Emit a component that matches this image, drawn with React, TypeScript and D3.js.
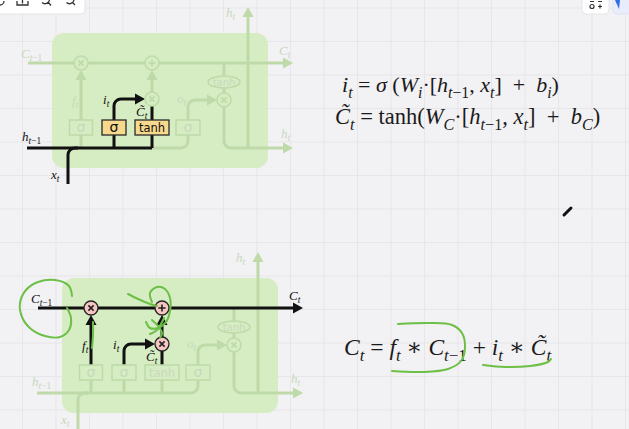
import React from "react";
import * as d3 from "d3";

type Seg = [string, string];

const W = 629;
const H = 429;

const BG = "#f2f1f3";
const GRID = "#e7e6ea";
const CELL = "#d6ecc2";
const FADE = "#bfdaa9";
const FADE_TXT = "#c7d9bd";
const INK = "#111111";
const PEN = "#6cbf47";

// formulas on the right
const formula1: Seg[] = [
  ["i", "v"], ["t", "s"], [" = ", "r"], ["σ", "v"], [" (", "r"], ["W", "v"], ["i", "s"],
  ["·[", "r"], ["h", "v"], ["t", "s"], ["−1", "sr"], [", ", "r"], ["x", "v"], ["t", "s"],
  ["]  +  ", "r"], ["b", "v"], ["i", "s"], [")", "r"],
];
const formula2: Seg[] = [
  ["C\u0303", "v"], ["t", "s"], [" = tanh(", "r"], ["W", "v"], ["C", "s"], ["·[", "r"],
  ["h", "v"], ["t", "s"], ["−1", "sr"], [", ", "r"], ["x", "v"], ["t", "s"],
  ["]  +  ", "r"], ["b", "v"], ["C", "s"], [")", "r"],
];
const formula3: Seg[] = [
  ["C", "v"], ["t", "s"], [" = ", "r"], ["f", "v"], ["t", "s"], [" ∗ ", "r"], ["C", "v"],
  ["t", "s"], ["−1", "sr"], [" + ", "r"], ["i", "v"], ["t", "s"], [" ∗ ", "r"],
  ["C\u0303", "v"], ["t", "s"],
];
const formulas = [formula1, formula2, formula3];
const formulaX = [342, 335, 344];
const formulaY = [92, 124, 355];
const formulaSize = [22, 22.5, 23.5];

// lstm cell, local units (box top-left = 0,0)
const cellW = 216;
const cellH = 135;

const gateKeys = ["gf", "gi", "gc", "go"];
const gateText = ["σ", "σ", "tanh", "σ"];
const gateCx = [29, 62, 100, 136];
const gateHalf = [11.5, 12, 17, 12];

const opKeys = ["fx", "plus", "ix", "ox"];
const opGlyph = ["x", "+", "x", "x"];
const opCx = [29, 100, 100, 172];
const opCy = [30, 30, 66, 67];

const lineKeys = [
  "cell", "sf", "fArrow", "si", "iArrow", "sc", "cStem", "ixUp", "oArrow",
  "hIn", "hInRest", "xt", "tanhIn", "tanhOut", "hOut", "hUp",
];
const linePts = [
  [[-24, 30], [241, 30]],
  [[29, 115], [29, 102]],
  [[29, 87], [29, 37]],
  [[62, 115], [62, 102]],
  [[62, 87], [62, 66], [93, 66]],
  [[100, 115], [100, 102]],
  [[100, 87], [100, 73]],
  [[100, 59], [100, 37]],
  [[136, 87], [136, 67], [165, 67]],
  [[-25, 115], [100, 115]],
  [[100, 115], [136, 115], [136, 102]],
  [[16, 151], [16, 115], [26, 115]],
  [[172, 30], [172, 43]],
  [[172, 55], [172, 61]],
  [[172, 73], [172, 115], [241, 115]],
  [[196, 115], [196, -26]],
];
const lineArrow = [true, false, true, false, true, false, false, true, true, false, false, false, false, false, true, true];

const labelKeys = ["lC0", "lC1", "lf", "li", "lc", "lo", "lhTop", "lhRight", "lhIn", "lx"];
const labelSegs: Seg[][] = [
  [["C", "v"], ["t", "s"], ["−1", "sr"]],
  [["C", "v"], ["t", "s"]],
  [["f", "v"], ["t", "s"]],
  [["i", "v"], ["t", "s"]],
  [["C\u0303", "v"], ["t", "s"]],
  [["o", "v"], ["t", "s"]],
  [["h", "v"], ["t", "s"]],
  [["h", "v"], ["t", "s"]],
  [["h", "v"], ["t", "s"], ["−1", "sr"]],
  [["x", "v"], ["t", "s"]],
];
const labelX = [-31, 227, 20, 51, 84, 125, 174, 229, -30, -1];
const labelY = [25, 22, 72, 71, 83, 70, -16, 105, 108, 146];

const diagrams = [
  {
    ox: 52,
    oy: 33,
    pink: false,
    hi: ["hIn", "xt", "si", "sc", "gi", "gc", "iArrow", "cStem", "lhIn", "lx", "li", "lc"],
  },
  {
    ox: 62,
    oy: 278,
    pink: true,
    hi: ["cell", "fx", "plus", "ix", "fArrow", "iArrow", "cStem", "ixUp", "lC0", "lC1", "lf", "li", "lc"],
  },
];

// green hand-drawn marks
const scribbles = [
  [[72, 296], [69, 286], [55, 280], [38, 282], [26, 290], [20, 303], [22, 317], [31, 329], [45, 336], [60, 337], [69, 330], [71, 318], [67, 308]],
  [[128, 294], [138, 299], [150, 304], [157, 306]],
  [[152, 302], [150, 293], [157, 287], [165, 289], [170, 298], [170, 311], [166, 322], [158, 328], [150, 328], [146, 322]],
  [[152, 320], [158, 326], [162, 333], [160, 338]],
  [[164, 318], [157, 330], [150, 334]],
  [[93, 322], [93, 335], [92, 348]],
  [[398, 324], [430, 323], [452, 325], [462, 333], [465, 348], [461, 361], [448, 369], [422, 372], [392, 371]],
  [[483, 365], [505, 367], [530, 366], [548, 362], [551, 359]],
];

function MathText({ segs, x, y, size, fill }: { segs: Seg[]; x: number; y: number; size: number; fill: string }) {
  let sub = false;
  const shift = size * 0.26;
  return (
    <text x={x} y={y} fontFamily="'Liberation Serif', 'DejaVu Serif', serif" fontSize={size} fill={fill} style={{ whiteSpace: "pre" }}>
      {segs.map(([t, k], i) => {
        const isSub = k === "s" || k === "sr";
        let dy = 0;
        if (isSub && !sub) dy = shift;
        else if (!isSub && sub) dy = -shift;
        sub = isSub;
        return (
          <tspan key={i} dy={dy || undefined} fontSize={isSub ? size * 0.72 : size} fontStyle={k === "v" || k === "s" ? "italic" : "normal"}>
            {t}
          </tspan>
        );
      })}
    </text>
  );
}

function buildPath(pts: number[][], arrow: boolean, xs: any, ys: any) {
  const P = pts.map(([a, b]) => [xs(a), ys(b)]);
  let head: number[][] | null = null;
  if (arrow) {
    const [x1, y1] = P[P.length - 2];
    const [x2, y2] = P[P.length - 1];
    const len = Math.hypot(x2 - x1, y2 - y1);
    const ux = (x2 - x1) / len;
    const uy = (y2 - y1) / len;
    const L = 10;
    const hw = 5.5;
    const bx = x2 - ux * L;
    const by = y2 - uy * L;
    head = [[x2, y2], [bx - uy * hw, by + ux * hw], [bx + uy * hw, by - ux * hw]];
    P[P.length - 1] = [bx + ux, by + uy];
  }
  const p = d3.path();
  p.moveTo(P[0][0], P[0][1]);
  for (let i = 1; i < P.length - 1; i++) p.arcTo(P[i][0], P[i][1], P[i + 1][0], P[i + 1][1], 7);
  p.lineTo(P[P.length - 1][0], P[P.length - 1][1]);
  return { d: p.toString(), head };
}

function Cell({ ox, oy, hi, pink }: { ox: number; oy: number; hi: string[]; pink: boolean }) {
  const xs = d3.scaleLinear().domain([0, cellW]).range([ox, ox + cellW]);
  const ys = d3.scaleLinear().domain([0, cellH]).range([oy, oy + cellH]);
  const on = (k: string) => hi.includes(k);

  const lines = lineKeys.map((k, i) => ({ k, ...buildPath(linePts[i], lineArrow[i], xs, ys), hot: on(k) }));
  const drawLine = (l: any) => (
    <g key={l.k}>
      <path d={l.d} fill="none" stroke={l.hot ? INK : FADE} strokeWidth={3} />
      {l.head && <polygon points={l.head.map((p: number[]) => p.join(",")).join(" ")} fill={l.hot ? INK : FADE} />}
    </g>
  );

  return (
    <g>
      <rect x={xs(0)} y={ys(0)} width={xs(cellW) - xs(0)} height={ys(cellH) - ys(0)} rx={12} fill={CELL} />
      {lines.filter((l) => !l.hot).map(drawLine)}
      {/* tanh ellipse */}
      <ellipse cx={xs(172)} cy={ys(49)} rx={16} ry={6} fill={CELL} stroke={FADE} strokeWidth={1.5} />
      <text x={xs(172)} y={ys(49) + 4} textAnchor="middle" fontFamily="'DejaVu Sans', sans-serif" fontSize={10} fill={FADE_TXT}>
        tanh
      </text>
      {lines.filter((l) => l.hot).map(drawLine)}
      {gateKeys.map((k, i) => {
        const hot = on(k);
        const x0 = xs(gateCx[i] - gateHalf[i]);
        const x1 = xs(gateCx[i] + gateHalf[i]);
        return (
          <g key={k}>
            <rect x={x0} y={ys(87)} width={x1 - x0} height={ys(102) - ys(87)} fill={hot ? "#f6d98c" : CELL} stroke={hot ? "#2a2a2a" : FADE} strokeWidth={hot ? 1.3 : 1.5} />
            <text x={(x0 + x1) / 2} y={ys(99)} textAnchor="middle" fontFamily="'DejaVu Sans', sans-serif" fontSize={gateText[i] === "σ" ? 14 : 11.5} fill={hot ? INK : FADE_TXT}>
              {gateText[i]}
            </text>
          </g>
        );
      })}
      {opKeys.map((k, i) => {
        const hot = on(k) && pink;
        const cx = xs(opCx[i]);
        const cy = ys(opCy[i]);
        const c = hot ? "#222" : FADE;
        const a = opGlyph[i] === "x" ? 2.6 : 3.6;
        return (
          <g key={k}>
            <circle cx={cx} cy={cy} r={7} fill={hot ? "#f5c6c2" : CELL} stroke={c} strokeWidth={hot ? 1.3 : 1.5} />
            {opGlyph[i] === "x" ? (
              <path d={`M${cx - a},${cy - a}L${cx + a},${cy + a}M${cx + a},${cy - a}L${cx - a},${cy + a}`} stroke={c} strokeWidth={1.6} />
            ) : (
              <path d={`M${cx - a},${cy}L${cx + a},${cy}M${cx},${cy - a}L${cx},${cy + a}`} stroke={c} strokeWidth={1.6} />
            )}
          </g>
        );
      })}
      {labelKeys.map((k, i) => (
        <MathText key={k} segs={labelSegs[i]} x={xs(labelX[i])} y={ys(labelY[i])} size={13} fill={on(k) ? INK : FADE_TXT} />
      ))}
    </g>
  );
}

export default function App() {
  const gx = d3.range(22.5, W, 33.5);
  const gy = d3.range(8, H, 33.5);
  const pen = d3.line().curve(d3.curveCatmullRom.alpha(0.5));

  return (
    <svg width={W} height={H} style={{ position: "fixed", left: 0, top: 0, display: "block" }}>
      <rect width={W} height={H} fill={BG} />
      {gx.map((x) => (
        <line key={"x" + x} x1={x} x2={x} y1={0} y2={H} stroke={GRID} strokeWidth={1} />
      ))}
      {gy.map((y) => (
        <line key={"y" + y} x1={0} x2={W} y1={y} y2={y} stroke={GRID} strokeWidth={1} />
      ))}

      {diagrams.map((d, i) => (
        <Cell key={i} {...d} />
      ))}

      {formulas.map((f, i) => (
        <MathText key={i} segs={f} x={formulaX[i]} y={formulaY[i]} size={formulaSize[i]} fill="#1a1a1a" />
      ))}

      {scribbles.map((s, i) => (
        <path key={i} d={pen(s as [number, number][]) || ""} fill="none" stroke={PEN} strokeWidth={2} strokeLinecap="round" strokeLinejoin="round" />
      ))}

      {/* pen cursor */}
      <line x1={564} y1={215} x2={571} y2={208} stroke={INK} strokeWidth={3} strokeLinecap="round" />

      {/* toolbar, top left */}
      <rect x={-6} y={-6} width={91} height={20} rx={4} fill="#ffffff" stroke="#e4e3e7" />
      <g fill="none" stroke="#333" strokeWidth={1.3}>
        <path d="M0,5 A4,4 0 0 0 4,1" />
        <path d="M17,1 L17,5 L28,5 L28,1 M22.5,0 L22.5,3.5" />
        <path d="M49.5,0 A4.5,4.5 0 0 1 42,2.5 M48,2 L51,5.5" />
        <path d="M74,0 A4.5,4.5 0 0 1 66.5,2.5 M73,3 L75,5" />
      </g>

      {/* toolbar, top right */}
      <rect x={582} y={-6} width={27} height={20} rx={4} fill="#ffffff" stroke="#e4e3e7" />
      <g fill="none" stroke="#333" strokeWidth={1.2}>
        <path d="M590,1.5 L594,1.5 M598,1.5 L602,1.5" />
        <circle cx={592} cy={6.5} r={2} />
        <path d="M598,6.5 L602,6.5 M600,4.5 L600,8.5" />
      </g>
      <rect x={613} y={-6} width={20} height={20} rx={4} fill="#e9ecfb" stroke="#e0e3f3" />
      <path d="M615,0 L620,0 L619,9 Z" fill="#2f6fe6" />
    </svg>
  );
}
